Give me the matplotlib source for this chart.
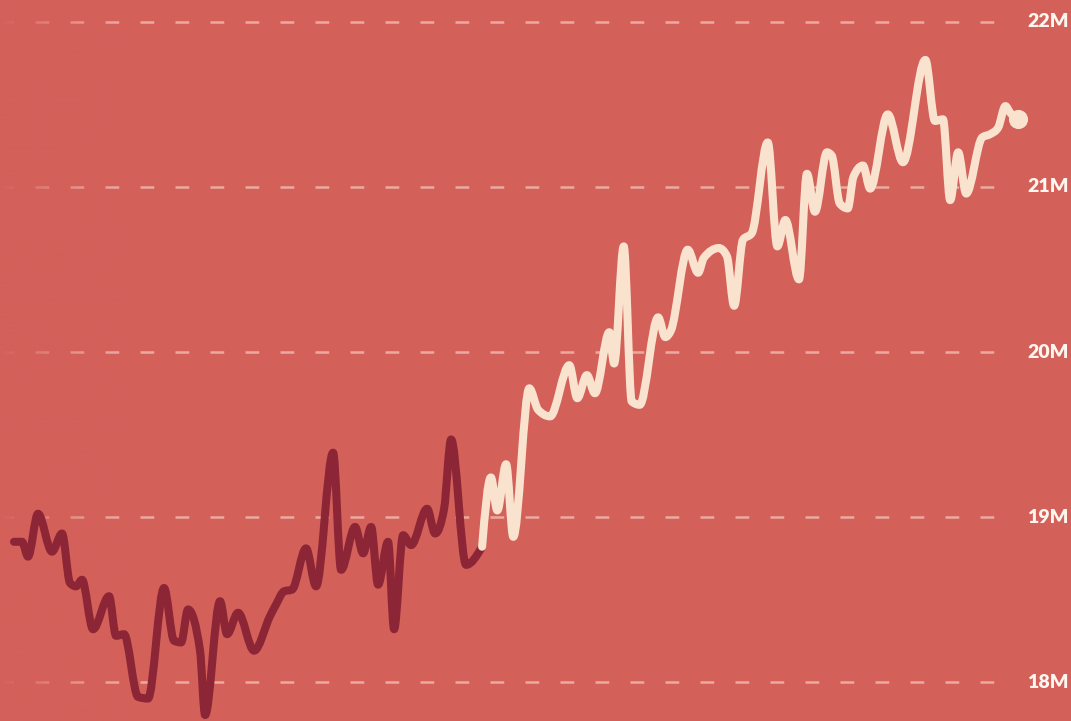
import matplotlib
matplotlib.use('Agg')
import matplotlib.pyplot as plt
from matplotlib.path import Path
from matplotlib.patches import PathPatch
import numpy as np

# time in weeks, values in millions
t_past = [0, 1, 1.75, 3, 4.75, 6, 7, 7.75, 8.5, 9.88, 11.88, 12.75, 13.75, 15.5, 16.75,
          18.75, 20, 20.88, 21.75, 23.25, 23.88, 25.75, 26.63, 28, 30, 32, 32.75, 33.75,
          34.75, 36.5, 37.75, 39.88, 40.88, 42.63, 43.63, 44.63, 45.5, 46.75, 47.5, 48.63,
          49.63, 51.63, 52.63, 53.75, 54.63, 56.5, 58.5]
v_past = [18.85, 18.85, 18.76, 19.02, 18.79, 18.90, 18.60, 18.58, 18.62, 18.32, 18.52,
          18.28, 18.29, 17.91, 17.90, 18.57, 18.25, 18.24, 18.44, 18.19, 17.80, 18.49,
          18.29, 18.42, 18.19, 18.40, 18.47, 18.55, 18.56, 18.81, 18.58, 19.39, 18.68,
          18.94, 18.78, 18.94, 18.59, 18.85, 18.32, 18.89, 18.83, 19.05, 18.90, 19.05,
          19.47, 18.71, 18.82]

t_recent = [58.5, 59.6, 60.4, 61.5, 62.4, 64.4, 65.5, 67, 69.4, 70.4, 71.6, 72.6, 74.4,
            75, 76.2, 77.2, 78.2, 80.5, 81.4, 82.1, 84.2, 85.5, 86.2, 88.1, 89.1, 90,
            91.1, 92.2, 94.2, 95.4, 96.4, 98.1, 99.1, 100.1, 101.6, 102.2, 103.2, 104.2,
            104.9, 106.1, 107, 109.2, 111.1, 113.9, 115.1, 116.1, 117, 118, 119, 121, 122,
            123, 123.9, 124.5, 125.5]
v_recent = [18.82, 19.24, 19.04, 19.32, 18.88, 19.78, 19.65, 19.61, 19.92, 19.72, 19.86,
            19.75, 20.12, 19.93, 20.64, 19.70, 19.68, 20.21, 20.09, 20.13, 20.62, 20.48,
            20.57, 20.63, 20.58, 20.28, 20.68, 20.72, 21.27, 20.64, 20.80, 20.44, 21.08,
            20.85, 21.21, 21.19, 20.90, 20.87, 21.06, 21.13, 20.99, 21.44, 21.15, 21.77,
            21.40, 21.41, 20.92, 21.21, 20.96, 21.30, 21.32, 21.36, 21.49, 21.45, 21.41]

ticks = [18, 19, 20, 21, 22]
tick_labels = ["18M", "19M", "20M", "21M", "22M"]

bg = "#D4605A"
dark = "#8C2636"
cream = "#F9E3CF"


def monotone_path(x, y):
    # same idea as d3.curveMonotoneX: bezier through every point
    x = np.asarray(x, float)
    y = np.asarray(y, float)
    n = len(x)
    h = np.diff(x)
    s = np.diff(y) / h
    t = np.zeros(n)
    for i in range(1, n - 1):
        h0, h1, s0, s1 = h[i - 1], h[i], s[i - 1], s[i]
        p = (s0 * h1 + s1 * h0) / (h0 + h1)
        t[i] = (np.sign(s0) + np.sign(s1)) * min(abs(s0), abs(s1), 0.5 * abs(p))
    t[0] = (3 * s[0] - t[1]) / 2
    t[-1] = (3 * s[-1] - t[-2]) / 2
    verts = [(x[0], y[0])]
    codes = [Path.MOVETO]
    for i in range(n - 1):
        dx = h[i] / 3
        verts += [(x[i] + dx, y[i] + dx * t[i]), (x[i + 1] - dx, y[i + 1] - dx * t[i + 1]),
                  (x[i + 1], y[i + 1])]
        codes += [Path.CURVE4] * 3
    return Path(verts, codes)


fig = plt.figure(figsize=(10.71, 7.21), dpi=100)
fig.patch.set_facecolor(bg)
ax = fig.add_axes([0, 0, 1, 1])
ax.set_facecolor(bg)

x0, x1 = -1.75, 132.1
y0, y1 = 17.764, 22.133
ax.set_xlim(x0, x1)
ax.set_ylim(y0, y1)
ax.axis('off')

grid_end = 124.8
for v, lab in zip(ticks, tick_labels):
    ax.plot([x0, grid_end], [v, v], color="#F4C3B8", lw=1.8, alpha=0.75,
            dashes=(5.5, 8.5), zorder=1)
    ax.text(126.6, v, lab, color="#FFF6F0", fontsize=14, fontweight='heavy',
            family=['Lato', 'DejaVu Sans'], va='center', ha='left', zorder=5)

# fade the gridlines in from the left
grad = np.zeros((2, 256, 4))
grad[..., :3] = matplotlib.colors.to_rgb(bg)
grad[..., 3] = (1 - np.linspace(0, 1, 256)) ** 1.3
ax.imshow(grad, extent=[x0, 14, y0, y1], aspect='auto', zorder=2,
          interpolation='bilinear')

for tt, vv, col, z in [(t_past, v_past, dark, 3), (t_recent, v_recent, cream, 4)]:
    ax.add_patch(PathPatch(monotone_path(tt, vv), facecolor='none', edgecolor=col,
                           lw=5.8, joinstyle='round', capstyle='round', zorder=z))
ax.scatter([t_recent[-1]], [v_recent[-1]], s=190, color=cream, zorder=4, linewidths=0)

ax.set_xlim(x0, x1)
ax.set_ylim(y0, y1)
fig.savefig("out.png", dpi=100, facecolor=bg)
